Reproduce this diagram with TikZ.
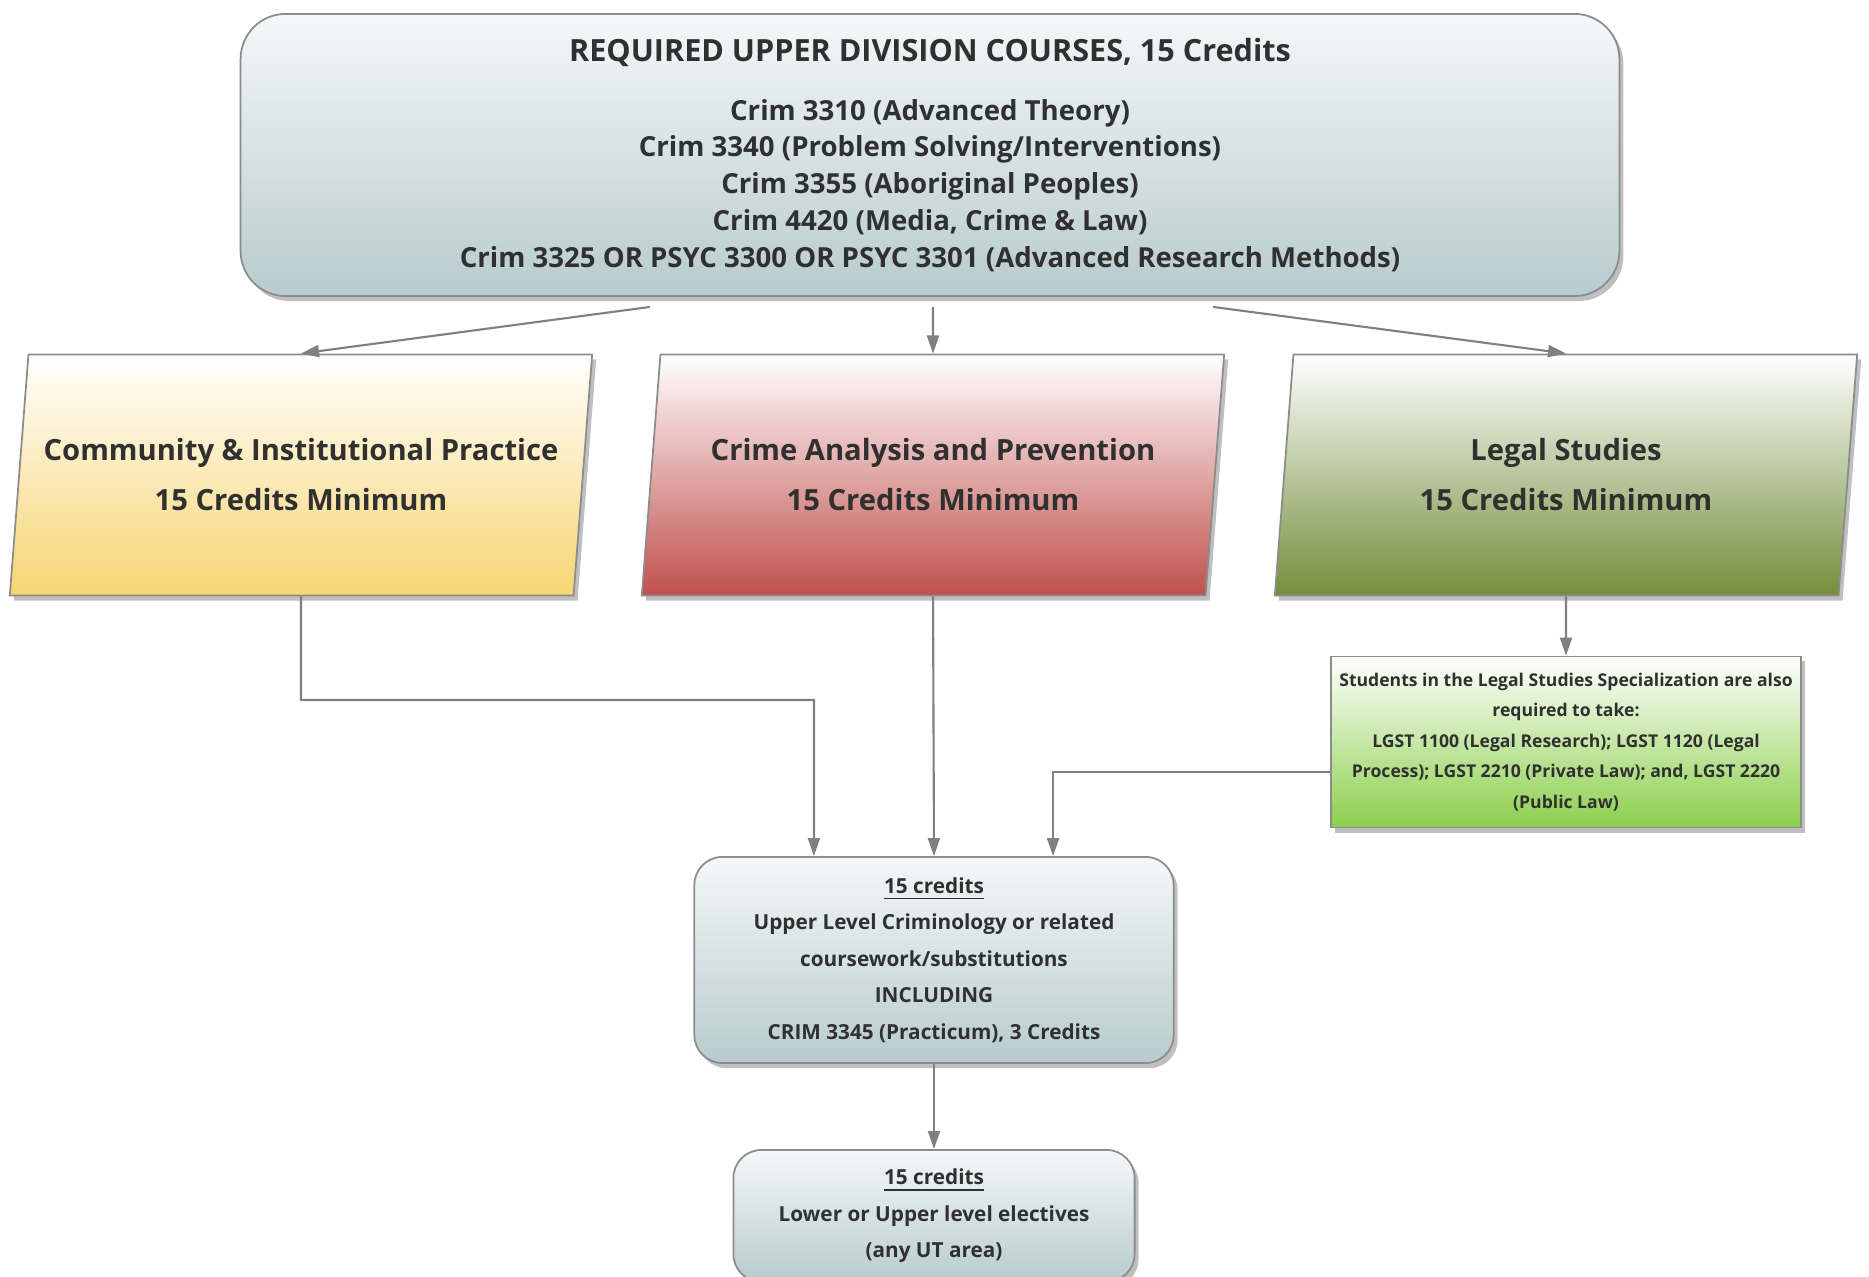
\documentclass[tikz,border=0pt]{standalone}
\usepackage{fontspec}
\setmainfont{Open Sans}
\usetikzlibrary{positioning,shapes.geometric,shadows,arrows.meta}
\definecolor{txtgray}{HTML}{303030}
\definecolor{edgegray}{HTML}{8C8C8C}
\definecolor{arrgray}{HTML}{808080}
\definecolor{boxtop}{HTML}{F4F8F8}
\definecolor{boxbot}{HTML}{B8CBCE}
\definecolor{cipbot}{HTML}{F7D572}
\definecolor{capbot}{HTML}{C0504D}
\definecolor{lsbot}{HTML}{738E3B}
\definecolor{lgbot}{HTML}{8CCF4C}
\tikzset{
  line/.style={draw=arrgray, line width=0.6pt, -{Triangle[length=0.18cm,width=0.12cm]}},
  shad/.style={drop shadow={shadow xshift=0.04cm, shadow yshift=-0.05cm, opacity=0.5}},
  credbox/.style={rounded corners=0.28cm, draw=edgegray, line width=0.5pt, top color=boxtop,
    bottom color=boxbot, shad, align=center, text=txtgray, inner sep=0pt},
  track/.style={trapezium, trapezium left angle=79, trapezium right angle=101,
    trapezium stretches body, minimum width=5.82cm, minimum height=2.41cm,
    draw=edgegray, line width=0.5pt, shad, align=center, text=txtgray,
    font=\bfseries\fontsize{8.3}{14.2}\selectfont}
}
\begin{document}
\begin{tikzpicture}[x=0.01cm, y=0.01cm]
  \useasboundingbox (0,0) rectangle (1869,-1277);
  % required courses
  \node (req) [credbox, rounded corners=0.45cm, minimum width=13.78cm, minimum height=2.82cm,
    font=\bfseries\fontsize{7.85}{10.5}\selectfont] at (930,-155)
    {{\fontsize{8.7}{10.5}\selectfont REQUIRED UPPER DIVISION COURSES, 15 Credits}\\[0.22cm]
     Crim 3310 (Advanced Theory)\\
     Crim 3340 (Problem Solving/Interventions)\\
     Crim 3355 (Aboriginal Peoples)\\
     Crim 4420 (Media, Crime \& Law)\\
     Crim 3325 OR PSYC 3300 OR PSYC 3301 (Advanced Research Methods)};
  % specializations
  \node (cip) [track, top color=white, bottom color=cipbot] at (301,-475)
    {Community \& Institutional Practice\\15 Credits Minimum};
  \node (cap) [track, top color=white, bottom color=capbot] at (933,-475)
    {Crime Analysis and Prevention\\15 Credits Minimum};
  \node (ls) [track, top color=white, bottom color=lsbot] at (1566,-475)
    {Legal Studies\\15 Credits Minimum};
  \node (legal) [credbox, rounded corners=0pt, top color=white, bottom color=lgbot,
    minimum width=4.69cm, minimum height=1.71cm,
    font=\bfseries\fontsize{5.0}{8.65}\selectfont] at (1566,-742)
    {Students in the Legal Studies Specialization are also\\
     required to take:\\
     LGST 1100 (Legal Research); LGST 1120 (Legal\\
     Process); LGST 2210 (Private Law); and, LGST 2220\\
     (Public Law)};
  % credits
  \node (core) [credbox, minimum width=4.79cm, minimum height=2.06cm,
    font=\bfseries\fontsize{5.9}{10.35}\selectfont] at (934,-960)
    {\underline{15 credits}\\
     Upper Level Criminology or related\\
     coursework/substitutions\\
     INCLUDING\\
     CRIM 3345 (Practicum), 3 Credits};
  \node (elec) [credbox, minimum width=4.01cm, minimum height=1.32cm,
    font=\bfseries\fontsize{5.9}{10.35}\selectfont] at (934,-1216)
    {\underline{15 credits}\\
     Lower or Upper level electives\\
     (any UT area)};
  \coordinate (r1) at ([xshift=-2.8cm, yshift=-0.1cm]req.south);
  \coordinate (r2) at ([xshift=0.03cm, yshift=-0.1cm]req.south);
  \coordinate (r3) at ([xshift=2.83cm, yshift=-0.1cm]req.south);
  \coordinate (lg) at ([yshift=-0.3cm]legal.west);
  \draw[line] (r1) -- (cip.north);
  \draw[line] (r2) -- (cap.north);
  \draw[line] (r3) -- (ls.north);
  \draw[line] (ls.south) -- (legal.north);
  \draw[line] (cip.south) |- (814,-700) -- ([xshift=-1.2cm]core.north);
  \draw[line] (cap.south) -- (core.north);
  \draw[line] (lg) -| ([xshift=1.19cm]core.north);
  \draw[line] (core.south) -- (elec.north);
\end{tikzpicture}
\end{document}
